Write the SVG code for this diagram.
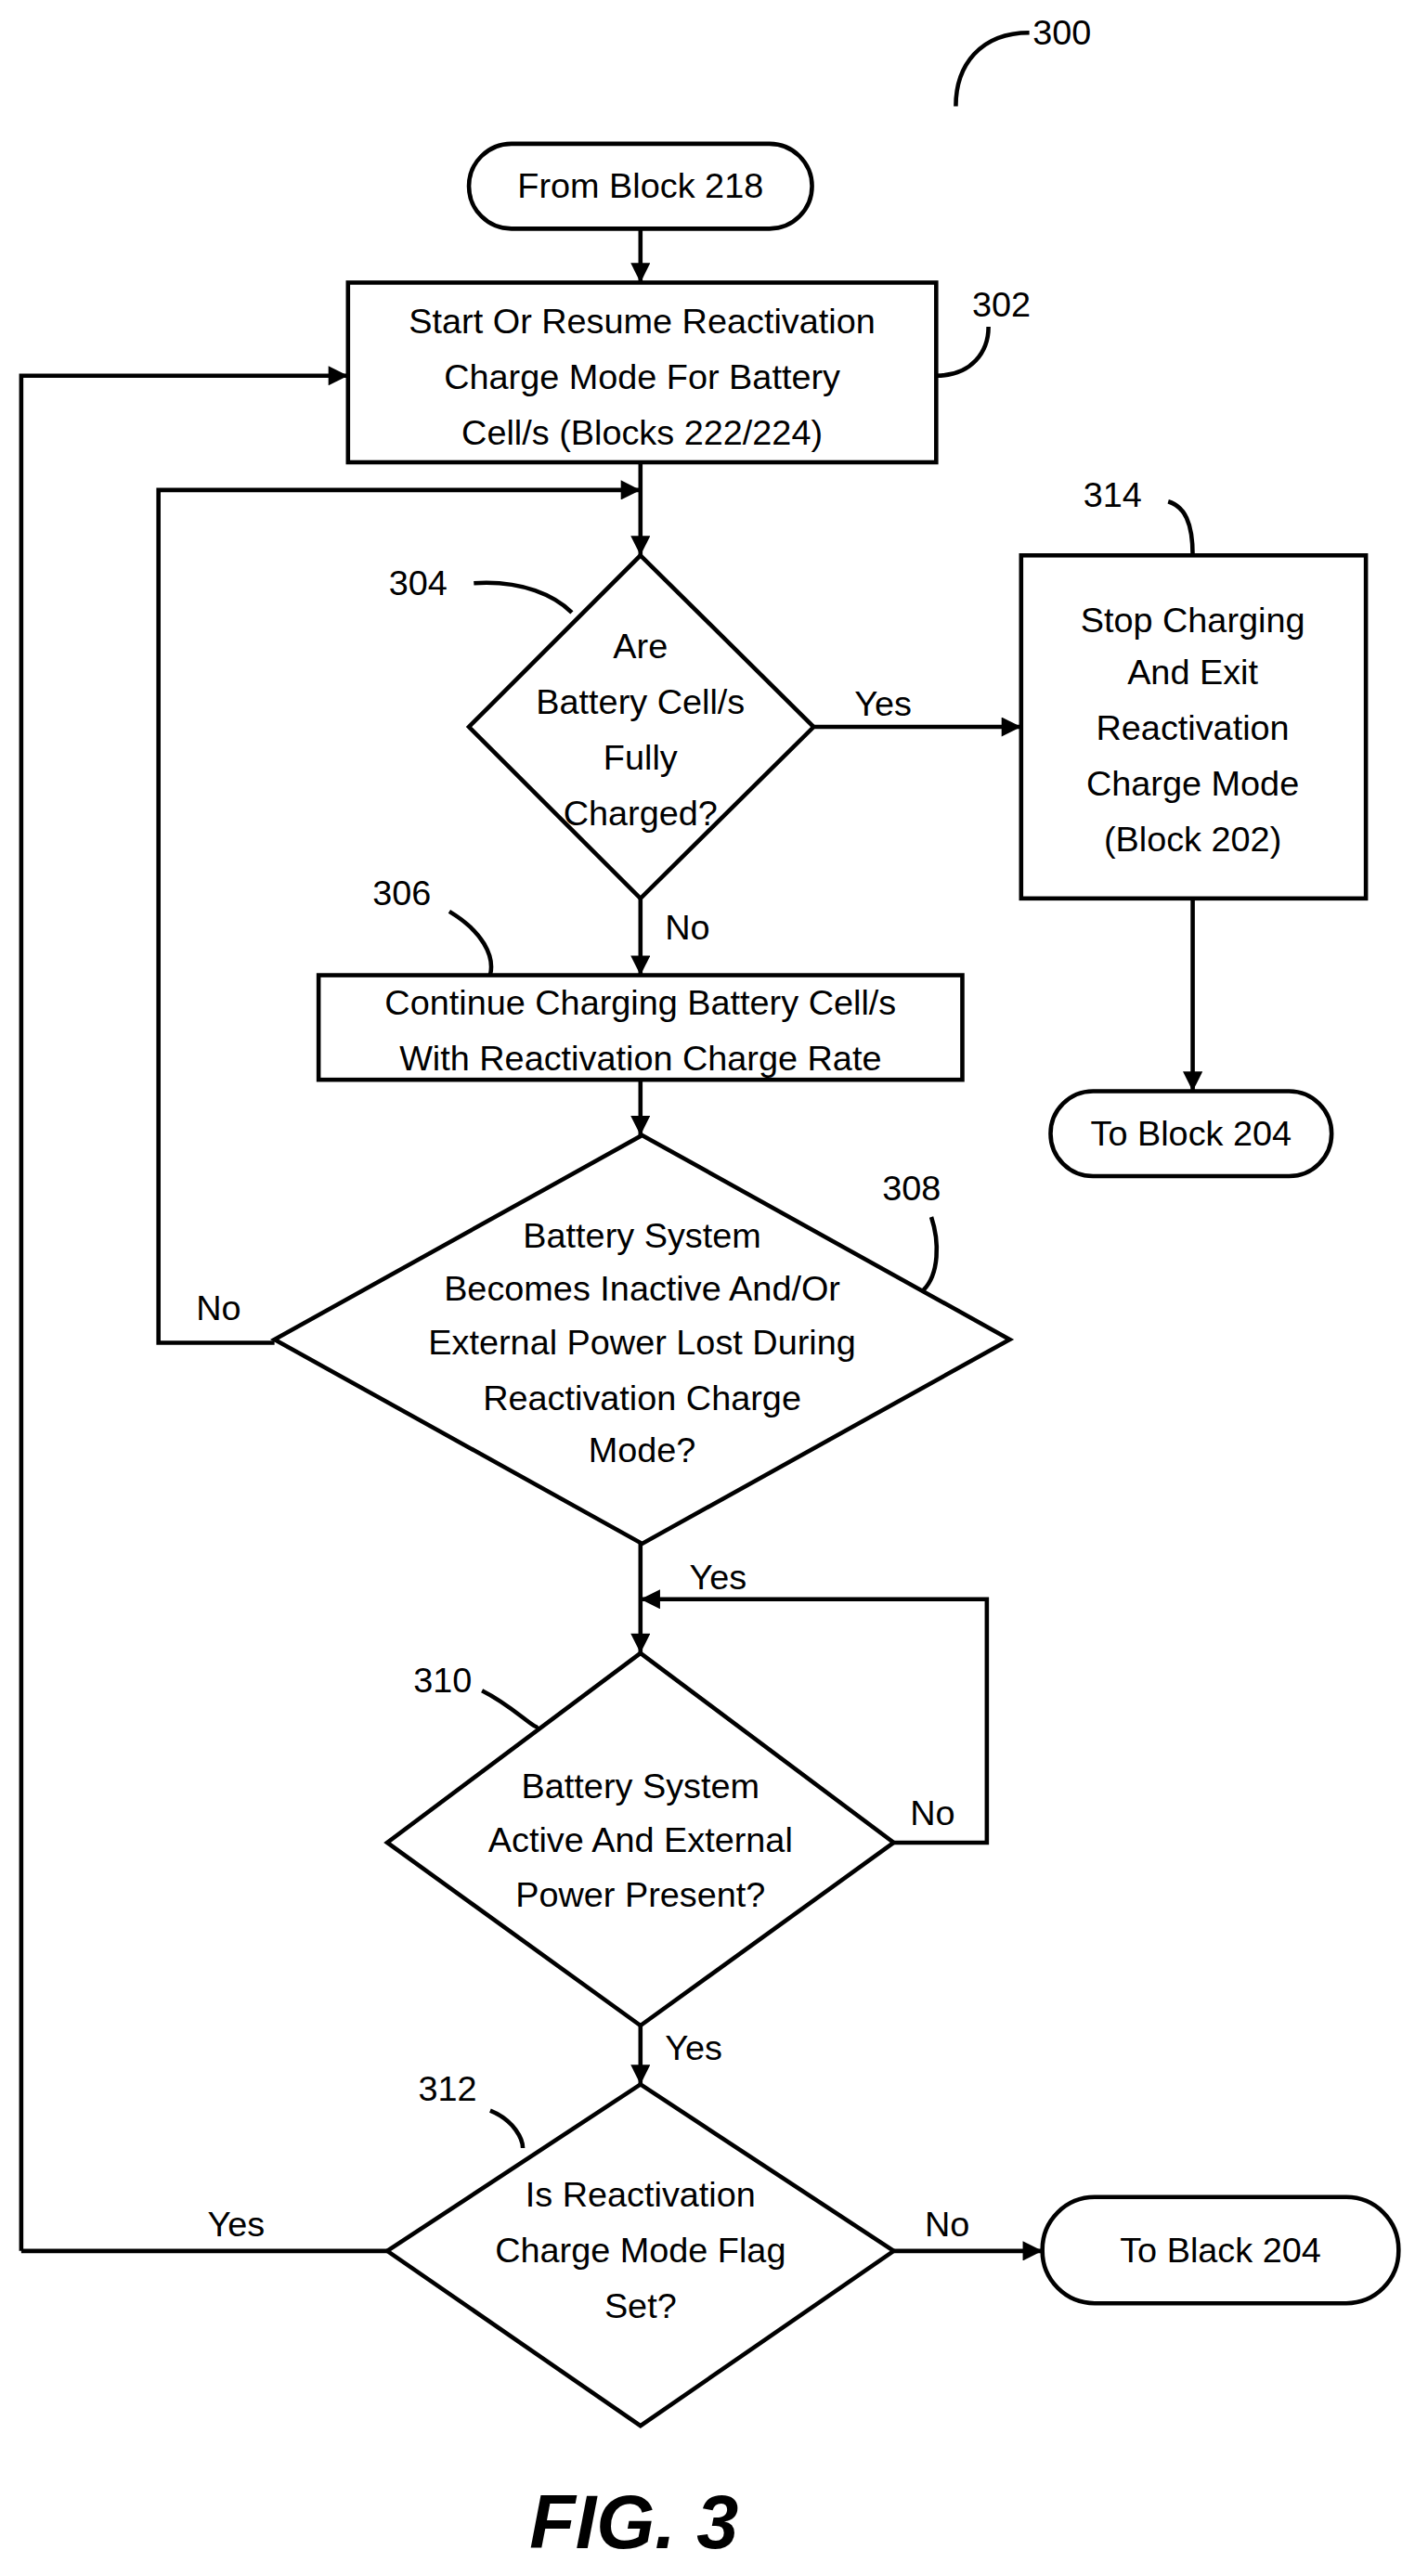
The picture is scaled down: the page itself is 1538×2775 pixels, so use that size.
<svg xmlns="http://www.w3.org/2000/svg" width="1538" height="2775" viewBox="0 0 1538 2775">
<defs>
<marker id="ah" viewBox="0 0 10 10" refX="10" refY="5" markerWidth="13" markerHeight="12" markerUnits="userSpaceOnUse" orient="auto"><path d="M0,0L10,5L0,10z" fill="#000"/></marker>
<style>
.s{fill:#fff;stroke:#000;stroke-width:2.6}
.c{fill:none;stroke:#000;stroke-width:2.6}
.a{fill:none;stroke:#000;stroke-width:2.6;marker-end:url(#ah)}
text{font-family:"Liberation Sans",Arial,sans-serif;font-size:21.5px;fill:#000}
.m{text-anchor:middle}
</style>
</defs>
<rect width="1538" height="2775" fill="#fff"/>
<g transform="scale(1.7597)">
<g id="connectors">
<path class="a" d="M392,140V173"/>
<path class="a" d="M13,1378V230H213"/>
<path class="a" d="M392,283V340"/>
<path class="a" d="M168,822H97V300H392"/>
<path class="a" d="M498,445H625"/>
<path class="a" d="M730,550V668"/>
<path class="a" d="M392,550V597"/>
<path class="a" d="M392,661V695"/>
<path class="a" d="M392,945V1012"/>
<path class="a" d="M547,1128H604V979H392"/>
<path class="a" d="M392,1240V1276"/>
<path class="c" d="M237,1378H13"/>
<path class="a" d="M547,1378H638"/>
<text x="523" y="438">Yes</text>
<text x="407" y="575">No</text>
<text x="120" y="808">No</text>
<text x="422" y="973">Yes</text>
<text x="557" y="1117">No</text>
<text x="407" y="1261">Yes</text>
<text x="127" y="1369">Yes</text>
<text x="566" y="1369">No</text>
</g>
<g id="ref300"><path class="c" d="M585,65C585,40 600,20 630,20"/><text x="632" y="27">300</text></g>
<g id="start"><rect class="s" x="287" y="88" width="210" height="52" rx="26"/><text class="m" x="392" y="121">From Block 218</text></g>
<g id="n302"><rect class="s" x="213" y="173" width="360" height="110"/>
<text class="m" x="393" y="204">Start Or Resume Reactivation</text><text class="m" x="393" y="238">Charge Mode For Battery</text><text class="m" x="393" y="272">Cell/s (Blocks 222/224)</text>
<path class="c" d="M573,230C595,230 605,215 605,200"/><text x="595" y="194">302</text></g>
<g id="n304"><path class="s" d="M392,340L498,445L392,550L287,445Z"/>
<text class="m" x="392" y="403">Are</text><text class="m" x="392" y="437">Battery Cell/s</text><text class="m" x="392" y="471">Fully</text><text class="m" x="392" y="505">Charged?</text>
<path class="c" d="M290,357C320,355 340,365 350,375"/><text x="238" y="364">304</text></g>
<g id="n314"><rect class="s" x="625" y="340" width="211" height="210"/>
<text class="m" x="730" y="387">Stop Charging</text><text class="m" x="730" y="419">And Exit</text><text class="m" x="730" y="453">Reactivation</text><text class="m" x="730" y="487">Charge Mode</text><text class="m" x="730" y="521">(Block 202)</text>
<path class="c" d="M715,307C725,310 730,320 730,340"/><text x="663" y="310">314</text></g>
<g id="end1"><rect class="s" x="643" y="668" width="172" height="52" rx="26"/><text class="m" x="729" y="701">To Block 204</text></g>
<g id="n306"><rect class="s" x="195" y="597" width="394" height="64"/>
<text class="m" x="392" y="621">Continue Charging Battery Cell/s</text><text class="m" x="392" y="655">With Reactivation Charge Rate</text>
<path class="c" d="M275,558C295,570 303,585 300,597"/><text x="228" y="554">306</text></g>
<g id="n308"><path class="s" d="M393,695L618,820L393,945L168,820Z"/>
<text class="m" x="393" y="764">Battery System</text><text class="m" x="393" y="796">Becomes Inactive And/Or</text><text class="m" x="393" y="829">External Power Lost During</text><text class="m" x="393" y="863">Reactivation Charge</text><text class="m" x="393" y="895">Mode?</text>
<path class="c" d="M570,745C575,760 575,780 565,790"/><text x="540" y="735">308</text></g>
<g id="n310"><path class="s" d="M392,1012L547,1128L392,1240L237,1128Z"/>
<text class="m" x="392" y="1101">Battery System</text><text class="m" x="392" y="1134">Active And External</text><text class="m" x="392" y="1167">Power Present?</text>
<path class="c" d="M295,1035C315,1045 328,1060 330,1057"/><text x="253" y="1036">310</text></g>
<g id="n312"><path class="s" d="M392,1276L547,1378L392,1485L237,1378Z"/>
<text class="m" x="392" y="1351">Is Reactivation</text><text class="m" x="392" y="1385">Charge Mode Flag</text><text class="m" x="392" y="1419">Set?</text>
<path class="c" d="M300,1292C315,1298 320,1310 320,1315"/><text x="256" y="1286">312</text></g>
<g id="end2"><rect class="s" x="638" y="1345" width="218" height="65" rx="32"/><text class="m" x="747" y="1385">To Black 204</text></g>
<text class="m" x="388" y="1560" style="font-size:46px;font-weight:bold;font-style:italic">FIG. 3</text>
</g>
</svg>
